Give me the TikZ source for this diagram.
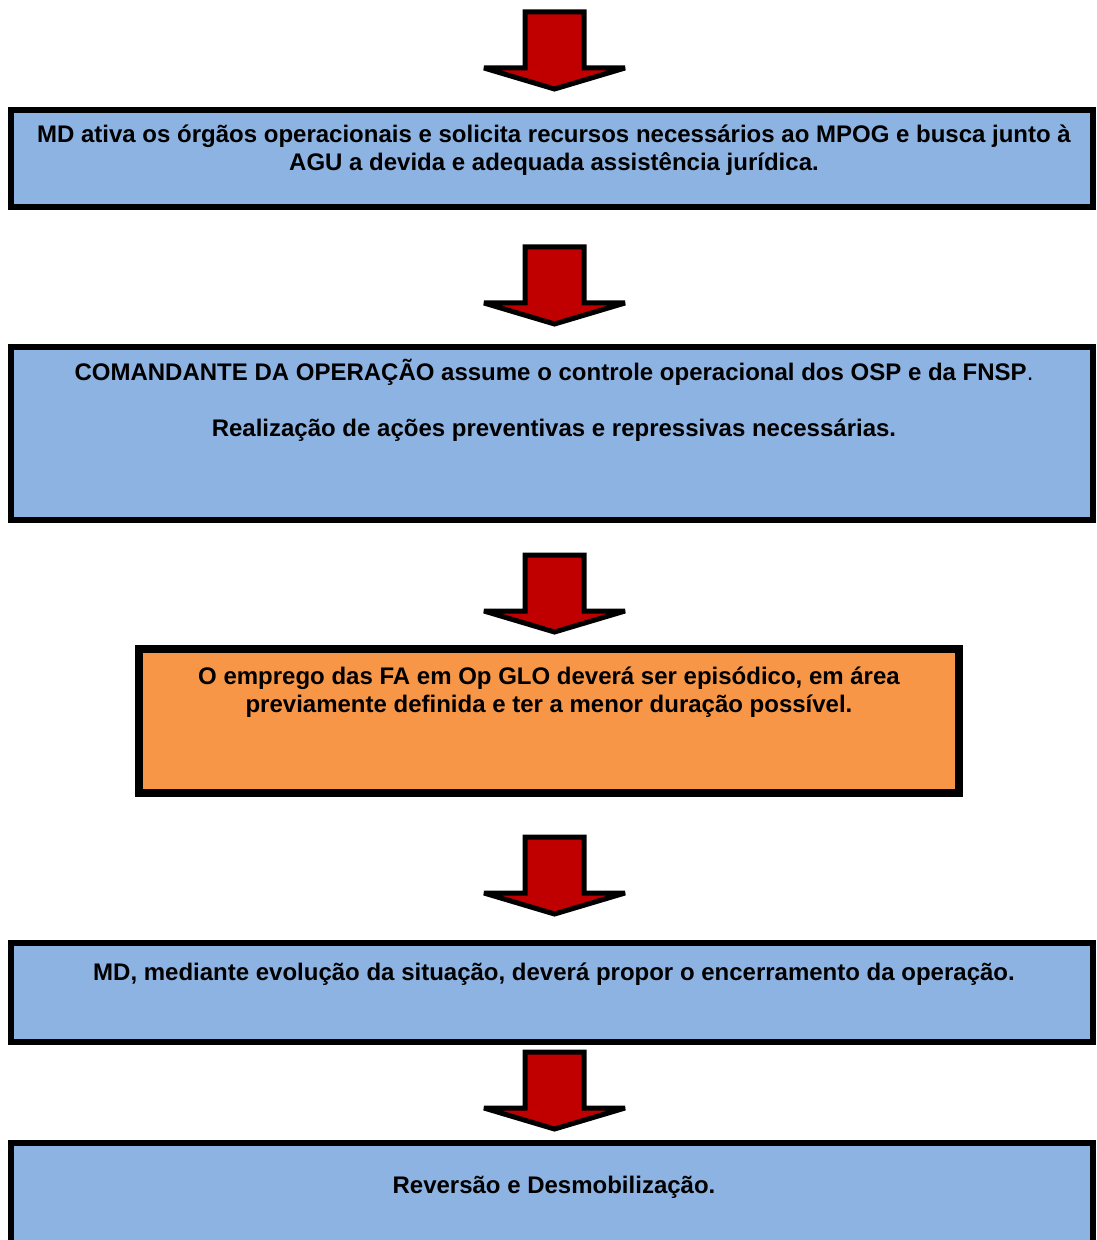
\documentclass[tikz,border=0pt]{standalone}
\usepackage{fontspec}
\setmainfont{Liberation Sans}
\usepackage{tikz}
\definecolor{boxblue}{HTML}{8DB3E2}
\definecolor{boxorange}{HTML}{F79646}
\definecolor{arrowred}{HTML}{C00000}
\tikzstyle{flowbox}=[rectangle,draw=black,fill=boxblue,line width=3pt,inner sep=0pt]
\tikzstyle{warnbox}=[rectangle,draw=black,fill=boxorange,line width=4pt,inner sep=0pt]
\tikzstyle{flowtext}=[anchor=base,align=center,inner sep=0pt,font=\fontsize{12}{14}\selectfont\bfseries]
\tikzstyle{blockarrow}=[draw=black,fill=arrowred,line width=2.5pt,line join=miter,miter limit=2]
\newcommand{\downblock}[1]{\draw[blockarrow] (#1) ++(-29.5,0) -- ++(59,0) -- ++(0,56) -- ++(41,0) -- ++(-70.5,21) -- ++(-70.5,-21) -- ++(41,0) -- cycle;}

\begin{document}
\begin{tikzpicture}[x=0.5pt,y=-0.5pt]
\clip (0,0) rectangle (1096,1240);

\node[flowbox, minimum width=541pt, minimum height=48.5pt] at (552, 158.5) (b1) {};
\node[flowbox, minimum width=541pt, minimum height=86.5pt] at (552, 433.5) (b2) {};
\node[warnbox, minimum width=410pt, minimum height=72pt] at (549, 721) (b3) {};
\node[flowbox, minimum width=541pt, minimum height=49.5pt] at (552, 992.5) (b4) {};
\node[flowbox, minimum width=541pt, minimum height=78.5pt] at (552, 1221.5) (b5) {};

% base anchor = last line
\node[flowtext] at (554, 171) (t1) {MD ativa os órgãos operacionais e solicita recursos necessários ao MPOG e busca junto à\\AGU a devida e adequada assistência jurídica.};
\node[flowtext] at (554, 437) (t2) {COMANDANTE DA OPERAÇÃO assume o controle operacional dos OSP e da FNSP{\mdseries .}\\[14pt]Realização de ações preventivas e repressivas necessárias.};
\node[flowtext] at (549, 712) (t3) {O emprego das FA em Op GLO deverá ser episódico, em área\\previamente definida e ter a menor duração possível.};
\node[flowtext] at (554, 980) (t4) {MD, mediante evolução da situação, deverá propor o encerramento da operação.};
\node[flowtext] at (554, 1193) (t5) {Reversão e Desmobilização.};

\coordinate (a1) at (554.5, 12);
\coordinate (a2) at (554.5, 247);
\coordinate (a3) at (554.5, 555);
\coordinate (a4) at (554.5, 837);
\coordinate (a5) at (554.5, 1052);
\downblock{a1}
\downblock{a2}
\downblock{a3}
\downblock{a4}
\downblock{a5}

\end{tikzpicture}
\end{document}
